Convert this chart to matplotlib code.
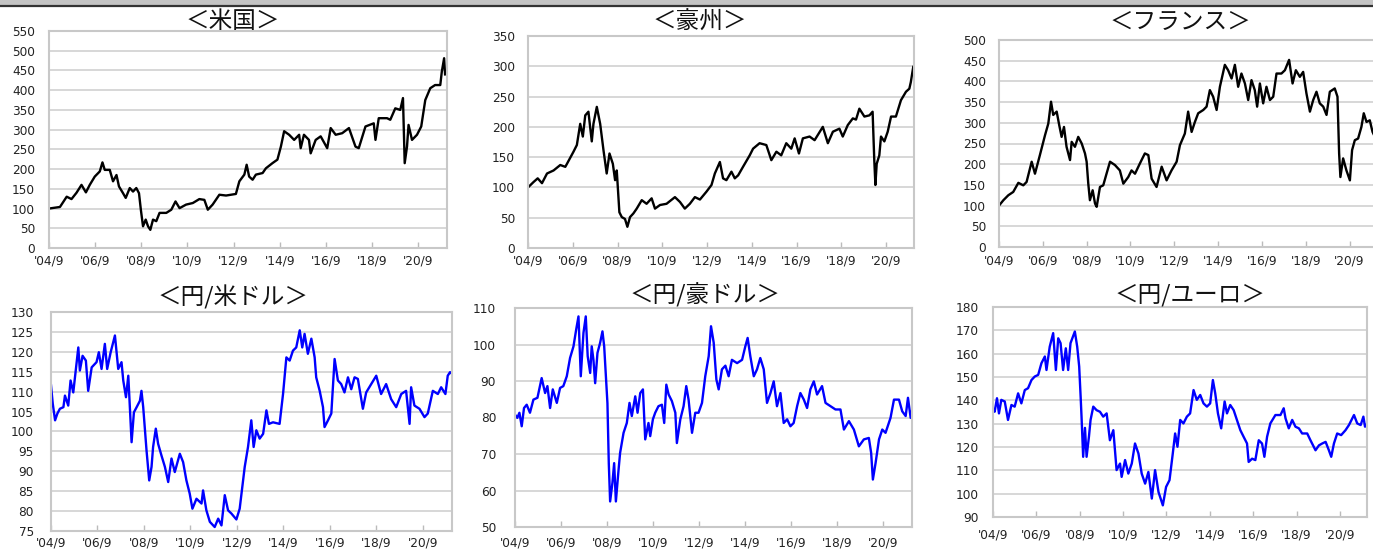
import matplotlib
matplotlib.use("Agg")
from matplotlib import pyplot as plt
from matplotlib.patches import Rectangle
from matplotlib.lines import Line2D

plt.rcParams['font.family'] = ['Noto Sans CJK JP', 'DejaVu Sans']

# x = months since 2004/9
tick_pos = [0, 24, 48, 72, 96, 120, 144, 168, 192]
tick_labels = ["'04/9", "'06/9", "'08/9", "'10/9", "'12/9", "'14/9", "'16/9", "'18/9", "'20/9"]

us_m = [0, 5.7, 9.2, 11.7, 14.3, 16.9, 19.2, 21.2, 23.8, 26.4, 27.8, 29.0, 31.6, 33.3, 35.1, 36.4,
        38.5, 39.9, 42.0, 43.7, 45.4, 46.8, 47.8, 48.9, 50.3, 51.5, 52.7, 54.1, 55.8, 57.5, 61.0,
        63.6, 65.8, 67.9, 71.3, 74.8, 78.2, 80.8, 82.6, 85.1, 88.6, 92.1, 97.2, 99.0, 101.6, 102.8,
        104.1, 105.9, 107.6, 111.1, 112.8, 116.2, 118.8, 120.6, 122.3, 124.9, 127.5, 130.1, 130.9,
        132.6, 135.2, 136.1, 138.7, 141.3, 144.7, 146.5, 149.1, 152.5, 156.0, 159.4, 161.1, 164.6,
        168.9, 169.8, 171.5, 175.8, 177.5, 180.1, 182.7, 184.1, 185.0, 186.2, 187.0, 188.8, 191.4,
        193.6, 195.7, 198.3, 200.8, 203.5, 204.3, 205.5, 206.0]
us_v = [100, 104, 130, 124, 140, 160, 141, 160, 181, 194, 217, 198, 198, 169, 185, 156,
        139, 127, 152, 143, 152, 139, 96, 55, 72, 55, 46, 72, 68, 89, 89,
        97, 118, 101, 110, 114, 124, 122, 97, 110, 135, 133, 137, 169, 186, 211,
        181, 173, 186, 190, 202, 215, 224, 257, 296, 287, 274, 287, 253,
        287, 274, 240, 274, 283, 253, 304, 287, 291, 304, 257, 253, 308,
        316, 274, 329, 329, 325, 354, 350, 380, 215, 257, 312, 274, 287,
        308, 375, 405, 413, 413, 447, 481, 440]

au_m = [0, 3.0, 5.2, 7.5, 10.2, 13.7, 17.3, 20.0, 20.9, 24.4, 26.2, 28.0, 29.4, 30.7, 32.4, 34.2,
        35.1, 36.9, 38.7, 40.5, 42.2, 43.7, 45.5, 46.7, 47.6, 49.0, 50.3, 52.0, 53.3, 54.7, 56.5,
        58.3, 61.0, 63.6, 66.3, 68.1, 70.8, 74.3, 78.8, 81.5, 84.1, 86.8, 89.5, 92.2, 95.7, 98.4,
        100.2, 102.9, 104.6, 106.4, 109.1, 110.9, 112.7, 115.3, 118.9, 120.7, 124.2, 127.8, 130.5,
        133.2, 135.8, 138.5, 141.2, 143.0, 145.3, 147.4, 151.0, 153.7, 158.1, 160.8, 163.5, 167.0,
        168.8, 171.5, 174.2, 175.9, 177.7, 180.4, 183.1, 184.8, 185.7, 186.3, 187.0, 188.4, 189.3,
        191.1, 192.9, 194.7, 197.3, 200.0, 202.7, 204.5, 205.3, 206.6]
au_v = [100, 109, 115, 107, 123, 128, 137, 134, 139, 159, 170, 205, 184, 219, 225, 176,
        205, 233, 205, 161, 123, 156, 139, 112, 128, 59, 51, 48, 35, 51, 57,
        65, 79, 73, 82, 65, 71, 73, 84, 76, 65, 73, 84, 80, 93, 104,
        123, 142, 115, 112, 126, 115, 120, 134, 153, 164, 173, 170, 145,
        159, 153, 173, 164, 181, 156, 181, 184, 178, 200, 173, 192, 197,
        184, 203, 214, 212, 230, 217, 219, 225, 145, 104, 139, 153, 184,
        176, 192, 217, 217, 244, 258, 263, 274, 299]

fr_m = [0, 2.4, 5.1, 7.8, 10.6, 13.3, 15.1, 17.9, 19.7, 22.4, 25.2, 27.0, 28.5, 29.7, 31.6, 33.0,
        34.3, 35.6, 37.0, 38.9, 39.8, 41.6, 43.4, 45.3, 47.1, 48.0, 48.9, 49.8, 51.3, 52.6, 53.5,
        55.3, 57.1, 58.9, 60.8, 63.5, 66.2, 68.1, 70.8, 72.6, 74.5, 77.2, 79.9, 81.8, 83.6, 86.3,
        89.1, 91.8, 94.5, 97.3, 99.1, 101.8, 103.6, 105.5, 107.3, 109.1, 111.9, 113.7, 115.5, 117.3,
        119.2, 121.0, 123.7, 125.5, 127.4, 129.2, 131.0, 132.8, 134.7, 136.5, 138.3, 140.1, 141.4,
        142.9, 144.7, 146.5, 148.4, 150.2, 152.0, 154.7, 156.6, 158.9, 160.8, 162.6, 164.8, 166.6,
        168.4, 170.3, 172.1, 173.9, 175.7, 177.6, 179.4, 181.2, 183.9, 185.4, 186.3, 187.0, 188.5,
        190.3, 192.2, 193.4, 194.9, 196.7, 198.5, 199.8, 201.3, 203.1, 204.6, 206.0]
fr_v = [100, 113, 125, 133, 155, 149, 157, 206, 177, 222, 270, 298, 351, 319, 327, 294,
        266, 290, 242, 210, 254, 242, 266, 250, 226, 206, 153, 113, 137, 105, 97,
        145, 149, 177, 206, 198, 185, 153, 169, 185, 177, 202, 226, 222, 165, 145,
        194, 161, 185, 206, 246, 274, 327, 278, 302, 323, 331, 339, 379, 363,
        331, 387, 440, 427, 407, 440, 387, 419, 395, 355, 403, 379, 339,
        395, 347, 387, 355, 363, 419, 419, 427, 452, 395, 427, 411, 423,
        371, 327, 355, 375, 347, 339, 319, 375, 383, 363, 226, 169, 214,
        185, 161, 234, 258, 262, 290, 323, 302, 306, 278, 265]

usd_m = [0, 0.9, 2.1, 3.3, 4.6, 6.4, 7.2, 8.9, 10.1, 11.5, 14.1, 14.9, 16.3, 18.0, 19.2, 21.0,
         23.5, 24.7, 26.1, 27.8, 29.0, 30.8, 33.0, 34.7, 36.4, 37.3, 38.7, 39.9, 41.6, 42.8, 44.2,
         45.9, 46.7, 47.6, 49.3, 50.7, 51.9, 52.7, 54.1, 55.3, 57.0, 58.8, 60.5, 62.2, 63.9, 66.5,
         68.2, 69.9, 71.6, 73.0, 75.1, 77.7, 78.5, 80.2, 82.0, 84.5, 86.3, 88.0, 89.7, 91.4, 93.1,
         95.7, 97.4, 100.0, 101.7, 103.4, 104.6, 106.0, 107.7, 109.5, 111.2, 112.5, 114.6, 118.0,
         119.8, 121.5, 123.2, 124.9, 126.6, 128.4, 129.7, 130.9, 132.6, 134.4, 136.1, 136.9, 138.7,
         140.4, 141.2, 143.0, 144.7, 146.4, 148.1, 149.8, 151.5, 153.3, 155.0, 156.7, 158.4, 161.0,
         162.7, 165.3, 167.9, 170.4, 173.0, 175.6, 178.2, 180.8, 183.3, 185.1, 185.9, 187.6, 190.2,
         192.8, 194.5, 197.1, 199.7, 201.4, 203.6, 204.8, 206.0, 206.9]
usd_v = [111.6, 107, 102.8, 104.5, 105.7, 106.1, 109, 106.5, 112.8, 109.8, 121.1, 115.3, 119, 117.8, 110.2, 116.1,
         117.4, 119.9, 115.7, 122, 115.7, 119.9, 124.1, 115.7, 117.4, 112.8, 108.6, 114, 97.3, 104.8, 106.1,
         107.7, 110.2, 106.1, 95.3, 87.7, 91.1, 96.1, 100.7, 96.9, 94, 91.1, 87.3, 93.2, 89.8, 94.4,
         92.3, 87.7, 84.4, 80.6, 83.1, 81.9, 85.2, 80.2, 77.3, 76, 78.1, 76.4, 84, 80.2, 79.4,
         77.9, 80.6, 91.1, 96.1, 102.8, 96.1, 100.3, 98.2, 99.4, 105.3, 101.9, 102.3, 101.9,
         109.5, 118.6, 117.8, 120.3, 121.1, 125.4, 121.1, 124.5, 119.5, 123.3, 118.6, 113.6, 110.2,
         106.1, 101.1, 102.8, 104.5, 118.2, 112.8, 111.9, 109.8, 113.6, 110.6, 113.6, 113.2, 105.7,
         109.8, 111.9, 114, 109.4, 111.9, 108.1, 106.1, 109.4, 110.2, 101.9, 111.1, 106.5, 105.7,
         103.6, 104.5, 110.2, 109.4, 111.1, 109.4, 114, 114.9, 114.5]

aud_m = [0, 1.2, 2.3, 3.5, 4.7, 6.1, 7.8, 9.6, 11.7, 13.9, 15.7, 16.9, 18.3, 19.7, 21.8, 23.5,
         25.2, 27.0, 28.7, 30.5, 31.9, 33.1, 34.3, 35.7, 36.9, 37.9, 39.2, 40.0, 40.9, 41.8, 43.0,
         44.4, 45.6, 46.5, 47.5, 48.2, 48.9, 49.6, 50.8, 51.7, 52.6, 54.0, 54.8, 56.6, 58.3, 59.7,
         60.9, 62.7, 63.9, 65.3, 66.7, 67.9, 69.6, 70.5, 71.9, 73.1, 74.8, 76.6, 77.8, 78.9, 80.1,
         81.8, 83.6, 84.4, 86.2, 87.9, 89.3, 90.5, 92.3, 94.0, 95.7, 97.5, 99.2, 101.0, 102.2, 103.6,
         105.0, 106.2, 107.9, 109.7, 111.4, 113.1, 115.8, 118.4, 120.1, 121.3, 122.7, 124.5, 126.2,
         127.9, 129.7, 131.4, 133.2, 134.9, 136.6, 138.4, 140.1, 141.9, 143.6, 145.3, 147.1, 148.8,
         150.6, 152.3, 154.0, 155.8, 157.5, 160.1, 161.9, 164.5, 167.1, 169.7, 171.5, 174.1, 176.7,
         179.3, 181.9, 184.5, 185.7, 186.6, 188.0, 189.8, 191.5, 193.2, 195.8, 197.6, 200.2, 201.9,
         203.7, 204.9, 206.3, 207.5]
aud_v = [80.8, 79.9, 81.3, 77.6, 82.6, 83.5, 81.3, 84.9, 85.4, 90.8, 86.7, 88.6, 82.6, 87.7, 84, 88.1,
         88.6, 91.3, 96.3, 99.5, 104.1, 107.7, 91.3, 103.2, 107.7, 96.8, 92.2, 99.5, 95.8, 89.4, 97.7,
         100.5, 103.6, 99.5, 90.4, 83.9, 67.5, 57, 62.1, 67.5, 57, 65.7, 70.3, 75.8, 78.5, 84,
         80.4, 85.8, 81.3, 86.7, 87.7, 74, 78.5, 74.9, 79.5, 81.3, 83.1, 83.5, 78.5, 89, 86.3,
         84.5, 81.3, 73, 79.5, 83.1, 88.6, 84.9, 75.8, 81.3, 81.3, 84, 91.3, 96.8, 105, 100.5,
         90.4, 87.7, 93.2, 94.2, 91.3, 95.8, 94.9, 95.8, 99.5, 101.8, 96.8, 91.3, 93.2,
         96.3, 93.2, 84, 86.7, 89.9, 83.1, 86.7, 78.5, 79.5, 77.6, 78.5, 83.1, 86.7,
         84.9, 82.6, 87.7, 89.9, 86.3, 88.6, 84, 83.1, 82.2, 82.2, 76.7, 79, 76.7,
         72.1, 74, 74.4, 70.3, 63, 67.5, 74, 76.7, 75.8, 79.9, 84.9, 84.9, 81.7,
         80.4, 85.4, 79.9, 83.1]

eur_m = [0, 0.9, 2.2, 3.3, 4.6, 6.5, 8.3, 10.2, 12.0, 13.9, 15.7, 17.6, 19.4, 21.3, 23.1, 25.0,
         26.8, 28.7, 29.6, 31.4, 33.3, 34.8, 36.1, 37.4, 38.8, 40.3, 41.6, 42.9, 45.3, 46.6, 47.7,
         48.5, 49.0, 49.9, 50.9, 51.8, 53.1, 54.0, 55.5, 57.3, 59.2, 61.0, 62.9, 64.7, 66.6, 68.4,
         70.3, 71.2, 73.1, 74.9, 76.8, 78.6, 80.5, 82.3, 84.2, 86.0, 87.9, 89.7, 91.6, 94.0, 95.8,
         97.7, 99.5, 100.8, 102.1, 103.6, 105.4, 107.3, 109.1, 111.0, 112.8, 114.7, 116.5, 118.4,
         120.2, 121.7, 123.0, 124.5, 126.3, 128.2, 129.5, 131.3, 133.2, 135.0, 136.9, 138.7, 140.6,
         141.5, 143.4, 145.2, 147.1, 148.9, 150.2, 151.7, 153.5, 156.3, 159.1, 160.9, 161.9, 163.7,
         165.6, 167.4, 169.3, 171.1, 173.9, 175.7, 178.5, 180.4, 182.2, 184.1, 185.9, 187.2, 188.7,
         190.5, 192.7, 195.1, 197.0, 199.8, 201.6, 203.5, 205.0, 205.9, 207.2]
eur_v = [136.6, 135.1, 140.9, 134.4, 140.2, 139.5, 131.6, 138, 137.3, 143, 138.7, 144.4, 145.2, 148.7, 150.2, 150.9,
         155.9, 158.8, 153, 163, 168.8, 153, 166.6, 164.5, 153, 162.3, 153, 164.5, 169.5, 163, 154.5,
         141.6, 133, 115.8, 128.2, 115.8, 124.4, 131.6, 137.3, 135.8, 135.1, 133, 134.4, 122.9, 127.2, 110.1,
         112.9, 107.2, 114.4, 108.6, 112.9, 121.5, 117.2, 108.6, 104.3, 109.3, 97.9, 110.1, 100.7, 95, 102.9,
         105.8, 117.2, 125.8, 120.1, 131.6, 130.1, 133, 134.4, 144.4, 140.2, 142.3, 138.7, 137.3,
         138.7, 148.7, 143, 134.4, 128, 139.5, 134.4, 138, 135.8, 131.6, 127.2, 124.4, 121.5,
         113.6, 115, 114.4, 122.9, 121.5, 115.8, 124.4, 130.1, 133.7, 133.7, 136.6, 132.3, 128,
         131.6, 128.7, 128, 125.8, 125.8, 122.9, 118.6, 120.7, 121.5, 122.2, 118.6, 115.8, 121.5,
         125.8, 125.1, 127.2, 129.4, 133.7, 130.1, 129.4, 133, 128.7, 130.1]

W, H = 1373, 552
fig = plt.figure(figsize=(W / 100, H / 100), dpi=100)

# top band
fig.patches.append(Rectangle((0, 1 - 5 / H), 1, 5 / H, transform=fig.transFigure,
                             facecolor='#c4c4c4', edgecolor='none'))
fig.lines.append(Line2D([0, 1], [1 - 5.5 / H, 1 - 5.5 / H], transform=fig.transFigure,
                        color='#333333', lw=1.6))


def panel(box, xs, ys, ylim, ystep, color, title, tx, ty, ypad, xpad, xmax=207):
    l, t, r, b = box
    ax = fig.add_axes([l / W, 1 - b / H, (r - l) / W, (b - t) / H])
    ax.plot(xs, ys, color=color, lw=1.7, solid_joinstyle='round')
    ax.set_xlim(0, xmax)
    ax.set_ylim(*ylim)
    ax.set_yticks(range(ylim[0], ylim[1] + 1, ystep))
    ax.set_xticks(tick_pos)
    ax.set_xticklabels(tick_labels)
    ax.grid(axis='y', color='#d4d4d4', lw=1.3)
    ax.set_axisbelow(True)
    for s in ax.spines.values():
        s.set_color('#c8c8c8')
        s.set_linewidth(1.5)
    # pads given in pixels
    ax.tick_params(axis='x', direction='in', length=4, color='#bbbbbb', width=1,
                   labelsize=8.7, pad=xpad * 0.72, labelcolor='#222222')
    ax.tick_params(axis='y', length=0, labelsize=8.7, pad=ypad * 0.72, labelcolor='#222222')
    for lab in ax.get_xticklabels() + ax.get_yticklabels():
        lab.set_family('DejaVu Sans')
    fig.text(tx / W, 1 - ty / H, title, ha='center', va='center', fontsize=17, color='#111111')
    return ax


panel((49, 31, 447, 248), us_m, us_v, (0, 550), 50, 'black', '＜米国＞', 233, 22, 14, 6)
panel((528, 36, 914, 248), au_m, au_v, (0, 350), 50, 'black', '＜豪州＞', 700, 22, 13, 6)
panel((999, 40, 1376, 247), fr_m, fr_v, (0, 500), 50, 'black', '＜フランス＞', 1180, 22, 13, 7,
      xmax=206.5)
panel((51, 312, 452, 531), usd_m, usd_v, (75, 130), 5, '#0000ff', '＜円/米ドル＞', 233, 297, 17, 6)
panel((515, 308, 912, 527), aud_m, aud_v, (50, 110), 10, '#0000ff', '＜円/豪ドル＞', 705, 295, 19, 9)
panel((993, 307, 1367, 517), eur_m, eur_v, (90, 180), 10, '#0000ff', '＜円/ユーロ＞', 1190, 295, 14, 12)

fig.savefig('out.png', dpi=100)
